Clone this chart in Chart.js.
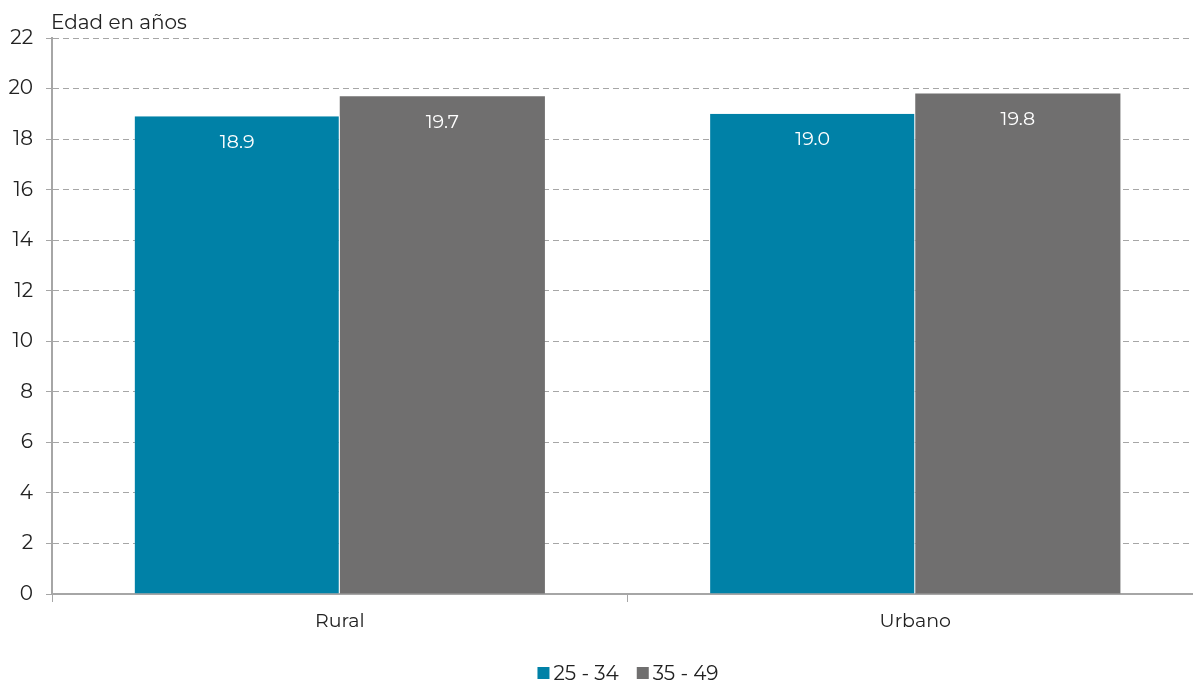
<!DOCTYPE html>
<html>
<head>
<meta charset="utf-8">
<script src="https://cdn.jsdelivr.net/npm/chart.js@4"></script>
<style>
  html, body { margin: 0; padding: 0; background: #fff; overflow: hidden; }
  #wrap { width: 1193px; height: 683px; overflow: hidden; }
</style>
</head>
<body>
<div id="wrap"><canvas id="chart" width="1203" height="683"></canvas></div>
<script>
// chart data
const categories = ["Rural", "Urbano"];
const seriesNames = ["25 - 34", "35 - 49"];
const young = [18.9, 19.0];
const older = [19.7, 19.8];
const yTicks = [0, 2, 4, 6, 8, 10, 12, 14, 16, 18, 20, 22];
const axisTitle = "Edad en años";

const FONT = "Montserrat, 'Open Sans', Lato, sans-serif";
const gridColor = "#a6a6a6";
const colors = ["#0081a7", "#706f6f"];

// bar value labels, drawn inside near the top of each bar
const valueLabels = {
  id: "valueLabels",
  afterDatasetsDraw(chart) {
    const ctx = chart.ctx;
    ctx.save();
    ctx.font = "19px " + FONT;
    ctx.fillStyle = "#ffffff";
    ctx.textAlign = "center";
    ctx.textBaseline = "middle";
    chart.data.datasets.forEach((ds, i) => {
      chart.getDatasetMeta(i).data.forEach((bar, j) => {
        ctx.fillText(ds.data[j].toFixed(1), bar.x, bar.y + 26);
      });
    });
    ctx.restore();
  }
};

// "Edad en años" above the y axis + legend at the bottom
const extras = {
  id: "extras",
  afterDraw(chart) {
    const ctx = chart.ctx;
    ctx.save();
    ctx.font = "20px " + FONT;
    ctx.fillStyle = "#222";
    ctx.textAlign = "left";
    ctx.textBaseline = "alphabetic";
    ctx.fillText(axisTitle, chart.chartArea.left - 1, chart.chartArea.top - 9);

    // legend
    const box = 12, gap = 4, between = 18;
    const widths = seriesNames.map(n => box + gap + ctx.measureText(n).width);
    const total = widths.reduce((a, b) => a + b, 0) + between * (widths.length - 1);
    let x = 628 - total / 2;
    const y = 673;
    ctx.textBaseline = "middle";
    seriesNames.forEach((n, i) => {
      ctx.fillStyle = colors[i];
      ctx.fillRect(x, y - box / 2, box, box);
      ctx.fillStyle = "#222";
      ctx.fillText(n, x + box + gap, y + 1);
      x += widths[i] + between;
    });
    ctx.restore();
  }
};

new Chart(document.getElementById("chart"), {
  type: "bar",
  data: {
    labels: categories,
    datasets: [
      { label: seriesNames[0], data: young, backgroundColor: colors[0], borderColor: "#ffffff", borderWidth: { right: 1 } },
      { label: seriesNames[1], data: older, backgroundColor: colors[1], borderWidth: 0 }
    ]
  },
  options: {
    responsive: false,
    animation: false,
    layout: { padding: { top: 38, right: 0, left: 0, bottom: 41 } },
    datasets: { bar: { categoryPercentage: 0.713, barPercentage: 1.0 } },
    scales: {
      x: {
        grid: { display: true, drawOnChartArea: false, offset: true, color: gridColor, tickLength: 8 },
        border: { color: gridColor, width: 2 },
        ticks: { color: "#222", font: { size: 19, family: FONT }, padding: 8 },
        afterFit(scale) { scale.height = 48; }
      },
      y: {
        min: 0,
        max: 22,
        afterBuildTicks(scale) { scale.ticks = yTicks.map(v => ({ value: v })); },
        grid: { color: gridColor, tickLength: 6, drawTicks: true, tickBorderDash: [] },
        border: { color: gridColor, width: 2, dash: [6, 4] },
        ticks: { color: "#222", font: { size: 20, family: FONT }, padding: 13 },
        afterFit(scale) { scale.width = 52; }
      }
    },
    plugins: {
      legend: { display: false },
      tooltip: { enabled: false }
    }
  },
  plugins: [valueLabels, extras]
});
</script>
</body>
</html>
